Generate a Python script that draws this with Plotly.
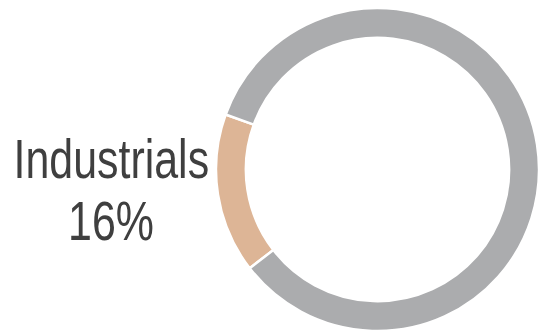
import plotly.graph_objects as go

categories = ["Industrials", "Other"]
values = [16, 84]
colors = ["#DDB596", "#ABACAE"]

W, H = 539, 334

fig = go.Figure(go.Pie(
    labels=categories,
    values=values,
    hole=0.815,
    sort=False,
    direction="clockwise",
    rotation=232.3,
    marker=dict(colors=colors, line=dict(color="white", width=2.5)),
    textinfo="none",
    hoverinfo="none",
    showlegend=False,
    domain=dict(x=[216 / W, 1], y=[0, 1 - 5 / H]),
))

font_family = "Liberation Sans, Arial, sans-serif"
pct = f"{values[0]}%"
fig.add_annotation(x=111 / W, y=1 - 158.5 / H, xref="paper", yref="paper",
                   text=categories[0], showarrow=False, xanchor="center", yanchor="middle",
                   font=dict(family=font_family, size=55, color="#3F3F3F"))
fig.add_annotation(x=111 / W, y=1 - 221 / H, xref="paper", yref="paper",
                   text=pct, showarrow=False, xanchor="center", yanchor="middle",
                   font=dict(family=font_family, size=55, color="#3F3F3F"))

fig.update_layout(width=W, height=H, margin=dict(l=0, r=0, t=0, b=0),
                  paper_bgcolor="white", plot_bgcolor="white")

post = """
document.body.style.margin='0';
document.body.style.overflow='hidden';
document.querySelectorAll('.annotation-text').forEach(function(t){
  t.style.transformBox='fill-box';
  t.style.transformOrigin='center';
  t.style.transform='scaleX(0.78)';
});
"""

fig.write_html("out.html", post_script=post, config={"displayModeBar": False})
